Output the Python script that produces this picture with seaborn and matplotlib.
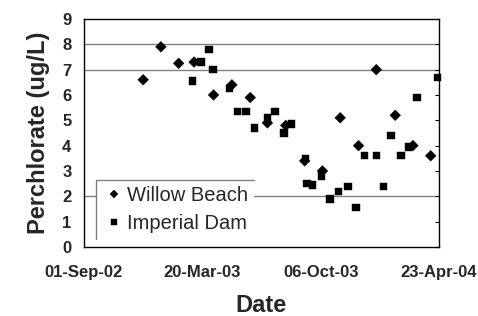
import matplotlib
matplotlib.use("Agg")
import matplotlib.pyplot as plt
import matplotlib.dates as mdates
from matplotlib.lines import Line2D
import pandas as pd
import seaborn as sns

# Perchlorate concentration (ug/L) at two Colorado River sites
willow_dates = ["2002-12-10", "2003-01-09", "2003-02-08", "2003-03-06", "2003-04-08",
                "2003-05-09", "2003-06-09", "2003-07-08", "2003-08-08", "2003-09-09",
                "2003-10-09", "2003-11-08", "2003-12-09", "2004-01-08", "2004-02-09",
                "2004-03-10", "2004-04-09"]
willow_vals = [6.6, 7.9, 7.25, 7.3, 6.0, 6.4, 5.9, 4.9, 4.8, 3.4,
               3.0, 5.1, 4.0, 7.0, 5.2, 4.0, 3.6]

imperial_dates = ["2003-03-03", "2003-03-18", "2003-03-31", "2003-04-07", "2003-05-05",
                  "2003-05-18", "2003-06-02", "2003-06-16", "2003-07-08", "2003-07-21",
                  "2003-08-05", "2003-08-18", "2003-09-10", "2003-09-13", "2003-09-22",
                  "2003-10-07", "2003-10-22", "2003-11-05", "2003-11-21", "2003-12-05",
                  "2003-12-19", "2004-01-08", "2004-01-20", "2004-02-02", "2004-02-19",
                  "2004-03-02", "2004-03-17", "2004-04-21"]
imperial_vals = [6.55, 7.3, 7.8, 7.0, 6.25, 5.35, 5.35, 4.7, 5.1, 5.35,
                 4.5, 4.85, 3.5, 2.5, 2.45, 2.8, 1.9, 2.2, 2.4, 1.55,
                 3.6, 3.6, 2.4, 4.4, 3.6, 3.95, 5.9, 6.7]

x_ticks = ["2002-09-01", "2003-03-20", "2003-10-06", "2004-04-23"]

df = pd.concat([
    pd.DataFrame({"Date": pd.to_datetime(willow_dates), "value": willow_vals, "site": "Willow Beach"}),
    pd.DataFrame({"Date": pd.to_datetime(imperial_dates), "value": imperial_vals, "site": "Imperial Dam"}),
])

sns.set_style("white")
plt.rcParams["font.family"] = ["Liberation Sans", "DejaVu Sans"]

fig = plt.figure(figsize=(4.78, 3.16), dpi=100)
ax = fig.add_axes([0.1757, 0.2184, 0.7427, 0.7215])

for y in [2, 7, 8]:
    ax.axhline(y, color="#808080", lw=1, zorder=0)

sns.scatterplot(data=df, x="Date", y="value", style="site",
                markers={"Willow Beach": "D", "Imperial Dam": "s"},
                size="site", sizes={"Willow Beach": 30, "Imperial Dam": 28},
                color="black", edgecolor="black", linewidth=0.3, ax=ax, zorder=3)
for coll in ax.collections:
    coll.set_clip_on(False)

ax.set_xlim(pd.Timestamp(x_ticks[0]), pd.Timestamp(x_ticks[-1]))
ax.set_ylim(0, 9)
ax.set_yticks(range(10))
ax.set_xticks(pd.to_datetime(x_ticks))
ax.xaxis.set_major_formatter(mdates.DateFormatter("%d-%b-%y"))

for s in ax.spines.values():
    s.set_color("black")
    s.set_linewidth(1)

ax.tick_params(axis="x", direction="out", length=4, color="black", pad=9)
ax.tick_params(axis="y", left=False, right=True, direction="in", length=3, color="black", pad=9)
for lab in ax.get_xticklabels() + ax.get_yticklabels():
    lab.set_fontweight("bold")
    lab.set_fontsize(12)

ax.set_xlabel("Date", fontsize=17, fontweight="bold", labelpad=10)
ax.set_ylabel("Perchlorate (ug/L)", fontsize=17, fontweight="bold", labelpad=9)

leg = ax.legend(loc="lower left", bbox_to_anchor=(0.035, 0.035), fontsize=14.5,
                frameon=True, fancybox=False, edgecolor="none", facecolor="white",
                framealpha=1, handletextpad=0.1, borderpad=0.3, labelspacing=0.45,
                handlelength=1.1, borderaxespad=0, markerscale=0.75)

# only the top and left edges of the legend box are drawn, as in the original
fig.canvas.draw()
bb = leg.get_frame().get_window_extent().transformed(fig.transFigure.inverted())
fig.add_artist(Line2D([bb.x0, bb.x0, bb.x1], [bb.y0, bb.y1, bb.y1],
                      color="#808080", lw=1, transform=fig.transFigure))

fig.savefig("out.png", dpi=100)
